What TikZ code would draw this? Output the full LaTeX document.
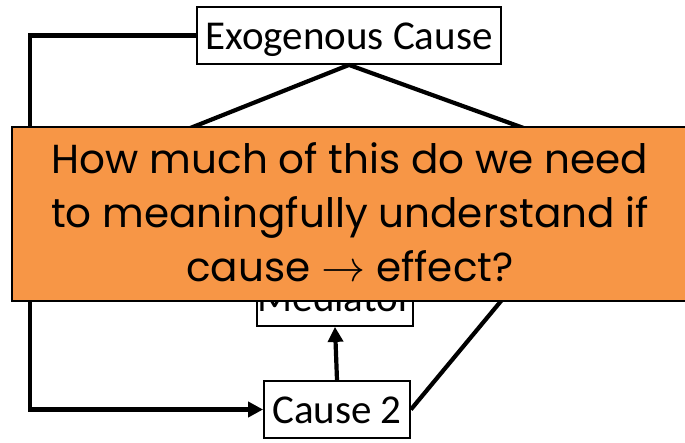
\documentclass[tikz,border=0pt]{standalone}
\usepackage{fontspec}
\setmainfont{Carlito}
\newfontfamily\qfont{Poppins}
\newfontfamily\lmm{latinmodern-math.otf}
\usetikzlibrary{arrows.meta}
\definecolor{qorange}{HTML}{F79646}
\newcommand{\qarrow}{{\lmm\fontsize{44}{54}\selectfont →}}
\begin{document}
\begin{tikzpicture}[x=1pt,y=-1pt,
  vbox/.style={draw=black,line width=1.8pt,fill=white,inner sep=0pt,
    font=\fontsize{41}{44}\selectfont,text height=30pt,text depth=2pt},
  conn/.style={line width=4.2pt},
  arr/.style={line width=4.2pt,-{Triangle[length=15pt,width=15pt]}},
  qbox/.style={draw=black,line width=2pt,fill=qorange,inner sep=0pt}]
\useasboundingbox (0,0) rectangle (685,442);
% hidden nodes behind the question box
\coordinate (cause1) at (130,152);
\coordinate (effect) at (590,152);
\coordinate (eff2) at (560,230);
\node[vbox,minimum width=156pt,minimum height=57pt] (med) at (335,297.5) {Mediator};
\node[vbox,minimum width=304pt,minimum height=57pt] (exo) at (349,35.5) {Exogenous Cause};
\node[vbox,minimum width=146pt,minimum height=57pt] (c2) at (337,409.5) {Cause 2};
\coordinate (tl) at (30,35.5);
\coordinate (bl) at (30,409.5);
\draw[conn] (exo.south) -- (cause1);
\draw[conn] (exo.south) -- (effect);
\draw[conn,line join=miter] (exo.west) -- (tl) -- (bl) -- ([xshift=-16pt]c2.west);
\draw[arr] (bl) -- (c2.west);
\draw[arr] (c2.north) -- (med.south);
\draw[conn] (c2.east) -- (eff2);
\draw[qbox] (12,127) rectangle (700,301);
\node[font=\qfont\fontsize{40.5}{54}\selectfont,align=center] (q) at (350,212)
  {How much of this do we need\\to meaningfully understand if\\cause \qarrow{} effect?};
\end{tikzpicture}
\end{document}
